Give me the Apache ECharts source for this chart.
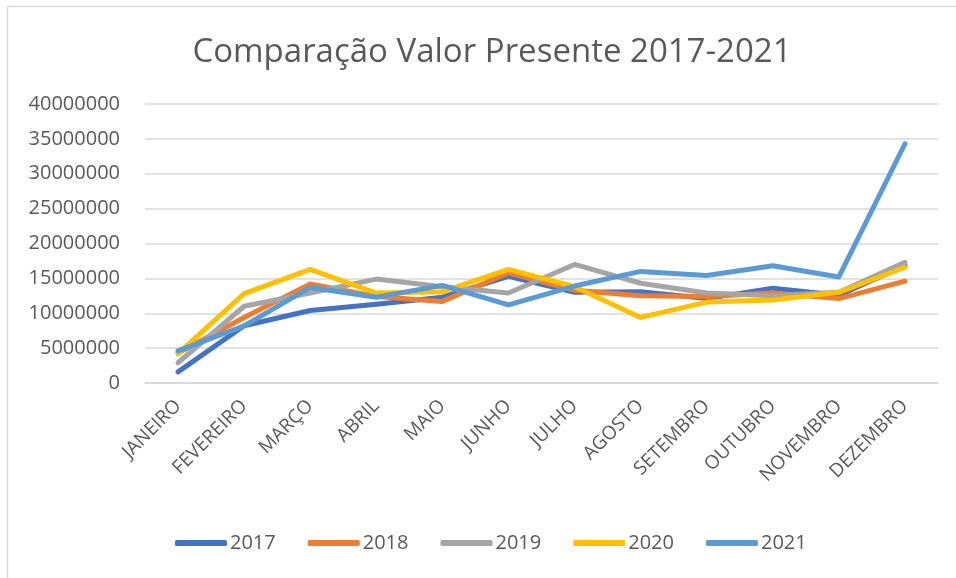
<!DOCTYPE html>
<html>
<head>
<meta charset="utf-8">
<script src="https://cdn.jsdelivr.net/npm/echarts@6/dist/echarts.min.js"></script>
<style>
  html, body { margin: 0; padding: 0; background: #fff; }
  #main { width: 956px; height: 578px; }
</style>
</head>
<body>
<div id="main"></div>
<script>
// categorias (meses)
var meses = ['JANEIRO', 'FEVEREIRO', 'MARÇO', 'ABRIL', 'MAIO', 'JUNHO',
  'JULHO', 'AGOSTO', 'SETEMBRO', 'OUTUBRO', 'NOVEMBRO', 'DEZEMBRO'];

// valores
var v2017 = [1600000, 8200000, 10400000, 11300000, 12300000, 15300000, 13000000, 13100000, 12100000, 13600000, 12600000, 16800000];
var v2018 = [4300000, 9400000, 14200000, 12400000, 11700000, 15800000, 13300000, 12500000, 12400000, 12900000, 12100000, 14600000];
var v2019 = [2900000, 11000000, 12900000, 14900000, 13800000, 12900000, 17000000, 14300000, 12900000, 12500000, 13000000, 17300000];
var v2020 = [4200000, 12800000, 16300000, 12900000, 13100000, 16300000, 13800000, 9400000, 11600000, 11900000, 13000000, 16600000];
var v2021 = [4600000, 8200000, 13700000, 12300000, 14000000, 11200000, 13900000, 16000000, 15400000, 16800000, 15200000, 34300000];

var anos = ['2017', '2018', '2019', '2020', '2021'];
var valores = [v2017, v2018, v2019, v2020, v2021];
var cores = ['#4472C4', '#ED7D31', '#A5A5A5', '#FFC000', '#5B9BD5'];

var fonte = '"Open Sans", "Noto Sans", sans-serif';
var myChart = echarts.init(document.getElementById('main'));

var series = anos.map(function (ano, i) {
  return {
    name: ano,
    type: 'line',
    data: valores[i],
    symbol: 'none',
    lineStyle: { width: 5, color: cores[i], cap: 'round', join: 'round' },
    itemStyle: { color: cores[i] }
  };
});

var option = {
  animation: false,
  backgroundColor: '#fff',
  color: cores,
  title: {
    text: 'Comparação Valor Presente 2017-2021',
    left: 487,
    textAlign: 'center',
    top: 31,
    textStyle: { fontFamily: fonte, fontSize: 33, fontWeight: 'normal', color: '#595959' }
  },
  graphic: [
    { type: 'line', shape: { x1: 7.5, y1: 6.5, x2: 956, y2: 6.5 }, style: { stroke: '#d9d9d9', lineWidth: 1.5 } },
    { type: 'line', shape: { x1: 7.5, y1: 6.5, x2: 7.5, y2: 578 }, style: { stroke: '#d9d9d9', lineWidth: 1.5 } }
  ],
  legend: {
    data: anos,
    bottom: 20,
    left: 170,
    icon: 'roundRect',
    itemWidth: 52,
    itemHeight: 6,
    itemGap: 32,
    textStyle: { fontFamily: fonte, fontSize: 20, color: '#595959', padding: [0, 0, 0, -2] }
  },
  grid: { left: 145, right: 18, top: 104, bottom: 195 },
  xAxis: {
    type: 'category',
    data: meses,
    boundaryGap: true,
    axisLine: { lineStyle: { color: '#d9d9d9', width: 1.5 } },
    axisTick: { show: false },
    axisLabel: { rotate: 45, interval: 0, margin: 20, fontFamily: fonte, fontSize: 19, color: '#595959' }
  },
  yAxis: {
    type: 'value',
    min: 0,
    max: 40000000,
    interval: 5000000,
    axisLine: { show: false },
    axisTick: { show: false },
    axisLabel: {
      margin: 25, fontFamily: fonte, fontSize: 20, color: '#595959',
      formatter: function (v) { return String(v); }
    },
    splitLine: { lineStyle: { color: '#d9d9d9', width: 1.5 } }
  },
  series: series
};

myChart.setOption(option);
</script>
</body>
</html>
